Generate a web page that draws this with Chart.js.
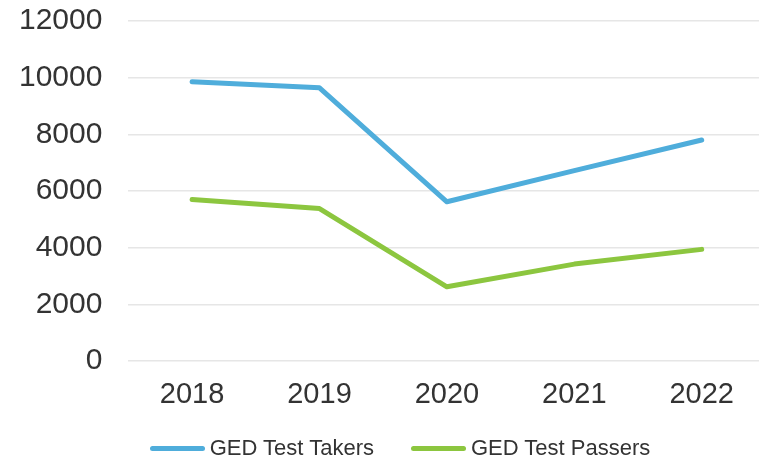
<!DOCTYPE html>
<html><head><meta charset="utf-8">
<script src="https://cdn.jsdelivr.net/npm/chart.js@4"></script>
<style>
html,body{margin:0;padding:0;overflow:hidden;background:#fff}
#wrap{position:relative;width:800px;height:460px}
#legend{position:absolute;left:0;top:436px;width:800px;display:flex;justify-content:center;align-items:center;
  font-family:'Liberation Sans',Arial,sans-serif;font-size:22px;color:#333333;line-height:24px}
.item{display:flex;align-items:center}
.item + .item{margin-left:37px}
.swatch{width:55px;height:5px;border-radius:3px;margin-right:5px}
</style>
</head><body><div id="wrap"><canvas id="c" width="800" height="460"></canvas><div id="legend"></div></div>
<script>
const categories = ["2018","2019","2020","2021","2022"];
const takers = [9860, 9640, 5620, 6720, 7800];
const passers = [5700, 5380, 2620, 3420, 3940];
const seriesNames = ["GED Test Takers","GED Test Passers"];
const seriesColors = ["#4FADDB","#8CC63F"];
const yTicks = [0,2000,4000,6000,8000,10000,12000];

const font = "'Liberation Sans', Arial, sans-serif";
const chart = new Chart(document.getElementById('c'), {
  type: 'line',
  data: {
    labels: categories,
    datasets: [
      {label: seriesNames[0], data: takers, borderColor: seriesColors[0], backgroundColor: seriesColors[0], borderWidth: 5, pointRadius: 0, tension: 0, borderCapStyle: 'round', borderJoinStyle: 'round'},
      {label: seriesNames[1], data: passers, borderColor: seriesColors[1], backgroundColor: seriesColors[1], borderWidth: 5, pointRadius: 0, tension: 0, borderCapStyle: 'round', borderJoinStyle: 'round'}
    ]
  },
  options: {
    responsive: false,
    animation: false,
    layout: {padding: {left: 19, right: 34.6, top: 21, bottom: 0}},
    plugins: {tooltip: {enabled: false}, legend: {display: false}},
    scales: {
      x: {
        offset: true,
        grid: {display: false, drawTicks: false},
        border: {display: false},
        ticks: {font: {family: font, size: 29}, color: '#333333', padding: 17},
        afterFit(axis) { axis.height = 99; axis.paddingLeft = 0; axis.paddingRight = 0; }
      },
      y: {
        min: 0, max: 12000,
        afterBuildTicks(axis) { axis.ticks = yTicks.map(v => ({value: v})); },
        grid: {color: '#E6E6E6', lineWidth: 1.5, drawTicks: false},
        border: {display: false},
        ticks: {font: {family: font, size: 30}, color: '#333333', padding: 26, callback: v => String(v)},
        afterFit(axis) { axis.width = 109.4; axis.paddingTop = 0; axis.paddingBottom = 0; }
      }
    }
  }
});

const legend = document.getElementById('legend');
chart.data.datasets.forEach(d => {
  const item = document.createElement('div'); item.className = 'item';
  const sw = document.createElement('div'); sw.className = 'swatch'; sw.style.background = d.borderColor;
  const tx = document.createElement('span'); tx.textContent = d.label;
  item.appendChild(sw); item.appendChild(tx); legend.appendChild(item);
});
</script></body></html>
